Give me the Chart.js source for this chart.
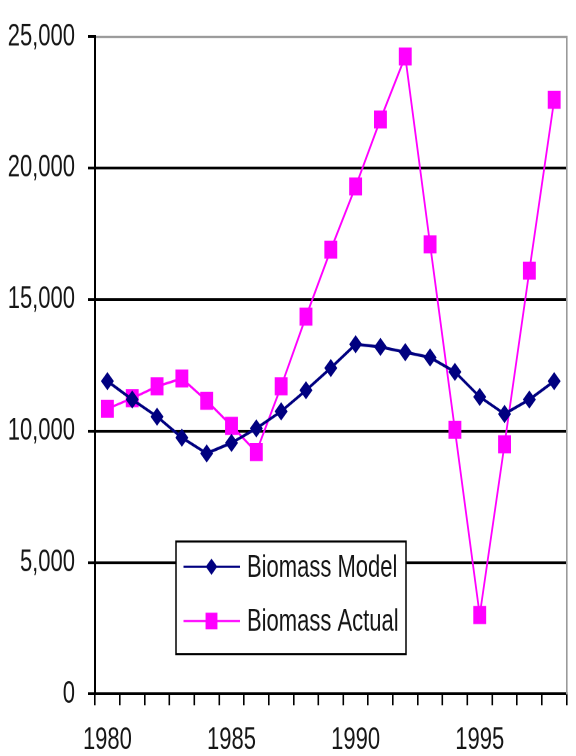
<!DOCTYPE html>
<html>
<head>
<meta charset="utf-8">
<script src="https://cdn.jsdelivr.net/npm/chart.js@4/dist/chart.umd.min.js"></script>
<style>
  html, body { margin: 0; padding: 0; background: #fff; width: 576px; height: 756px; }
  #wrap { width: 576px; height: 756px; position: relative; }
  canvas { display: block; }
</style>
</head>
<body>
<div id="wrap"><canvas id="c" width="576" height="540"></canvas></div>
<script>
const years = [1980, 1981, 1982, 1983, 1984, 1985, 1986, 1987, 1988, 1989,
               1990, 1991, 1992, 1993, 1994, 1995, 1996, 1997, 1998];
const biomassModel = [11900, 11200, 10550, 9750, 9150, 9550, 10100, 10750, 11550, 12400,
                      13300, 13200, 13000, 12800, 12250, 11300, 10650, 11200, 11900];
const biomassActual = [10850, 11250, 11700, 12000, 11150, 10200, 9200, 11700, 14350, 16900,
                       19300, 21850, 24250, 17100, 10050, 3000, 9500, 16100, 22600];
const yTicks = [0, 5000, 10000, 15000, 20000, 25000];
const seriesNames = ['Biomass Model', 'Biomass Actual'];

const FONT = '"Liberation Sans", Arial, sans-serif';
const TEXT = '#151515';

// Boxed legend drawn inside the plot area
const boxLegend = {
  id: 'boxLegend',
  afterDraw(chart) {
    const ctx = chart.ctx;
    const box = { x: 176, y: 386.8, w: 230, h: 80.5 };
    ctx.save();
    ctx.fillStyle = '#fff';
    ctx.fillRect(box.x, box.y, box.w, box.h);
    ctx.strokeStyle = '#000';
    ctx.lineWidth = 1.5;
    ctx.strokeRect(box.x, box.y, box.w, box.h);
    const rows = [404.8, 443.6];
    chart.data.datasets.forEach((ds, i) => {
      const y = rows[i];
      ctx.strokeStyle = ds.borderColor;
      ctx.lineWidth = 1.5;
      ctx.beginPath();
      ctx.moveTo(183.5, y);
      ctx.lineTo(240, y);
      ctx.stroke();
      ctx.fillStyle = ds.backgroundColor;
      const cx = 211.5, r = ds.pointRadius;
      ctx.beginPath();
      if (ds.pointStyle === 'rectRot') {
        ctx.moveTo(cx - r, y); ctx.lineTo(cx, y - r); ctx.lineTo(cx + r, y); ctx.lineTo(cx, y + r);
      } else {
        const s = r * Math.SQRT1_2;
        ctx.rect(cx - s, y - s, 2 * s, 2 * s);
      }
      ctx.closePath();
      ctx.fill();
      ctx.fillStyle = TEXT;
      ctx.font = '22px ' + FONT;
      ctx.textBaseline = 'middle';
      ctx.textAlign = 'left';
      ctx.fillText(ds.label, 247, y + 1);
    });
    ctx.restore();
  }
};

const canvas = document.getElementById('c');
new Chart(canvas, {
  type: 'line',
  data: {
    labels: years,
    datasets: [
      {
        label: seriesNames[0],
        data: biomassModel,
        borderColor: '#000080',
        backgroundColor: '#000080',
        borderWidth: 2.2,
        pointStyle: 'rectRot',
        pointRadius: 5.8,
        pointBorderWidth: 1,
        tension: 0
      },
      {
        label: seriesNames[1],
        data: biomassActual,
        borderColor: '#ff00ff',
        backgroundColor: '#ff00ff',
        borderWidth: 1.8,
        pointStyle: 'rect',
        pointRadius: 8.4,
        pointBorderWidth: 1,
        tension: 0
      }
    ]
  },
  options: {
    responsive: false,
    animation: false,
    devicePixelRatio: 2,
    layout: { padding: { left: 8, top: 25, right: 6, bottom: 0 } },
    plugins: { legend: { display: false }, tooltip: { enabled: false } },
    scales: {
      x: {
        type: 'category',
        offset: true,
        grid: { offset: true, drawOnChartArea: false, drawTicks: true, tickLength: 8, color: '#000', lineWidth: 1.6 },
        border: { display: true, color: '#000', width: 2 },
        ticks: {
          autoSkip: false, maxRotation: 0, minRotation: 0, padding: 12,
          color: TEXT, font: { family: FONT, size: 22 },
          callback: function (v, i) { const yr = years[i]; return yr % 5 === 0 ? String(yr) : ''; }
        },
        afterFit: s => { s.height = 44.3; }
      },
      xTop: {
        type: 'linear', position: 'top', min: 0, max: 1,
        grid: { display: false },
        ticks: { display: false },
        border: { display: true, color: '#9a9a9a', width: 1.6 },
        afterFit: s => { s.height = 0; }
      },
      y: {
        min: 0, max: 25000,
        afterBuildTicks: s => { s.ticks = yTicks.map(v => ({ value: v })); },
        grid: {
          color: c => (c.tick && c.tick.value === 25000 ? 'rgba(0,0,0,0)' : '#000'),
          tickColor: '#000', lineWidth: 2, tickLength: 7
        },
        border: { display: true, color: '#000', width: 2 },
        ticks: {
          padding: 13, color: TEXT, font: { family: FONT, size: 22 },
          callback: v => v.toLocaleString('en-US')
        },
        afterFit: s => { s.width = 87; }
      },
      yRight: {
        type: 'linear', position: 'right', min: 0, max: 1,
        grid: { display: false },
        ticks: { display: false },
        border: { display: true, color: '#9a9a9a', width: 1.6 },
        afterFit: s => { s.width = 0; }
      }
    }
  },
  plugins: [boxLegend]
});
// stretch the drawn canvas vertically to the page height
canvas.style.width = '576px';
canvas.style.height = '756px';
</script>
</body>
</html>
